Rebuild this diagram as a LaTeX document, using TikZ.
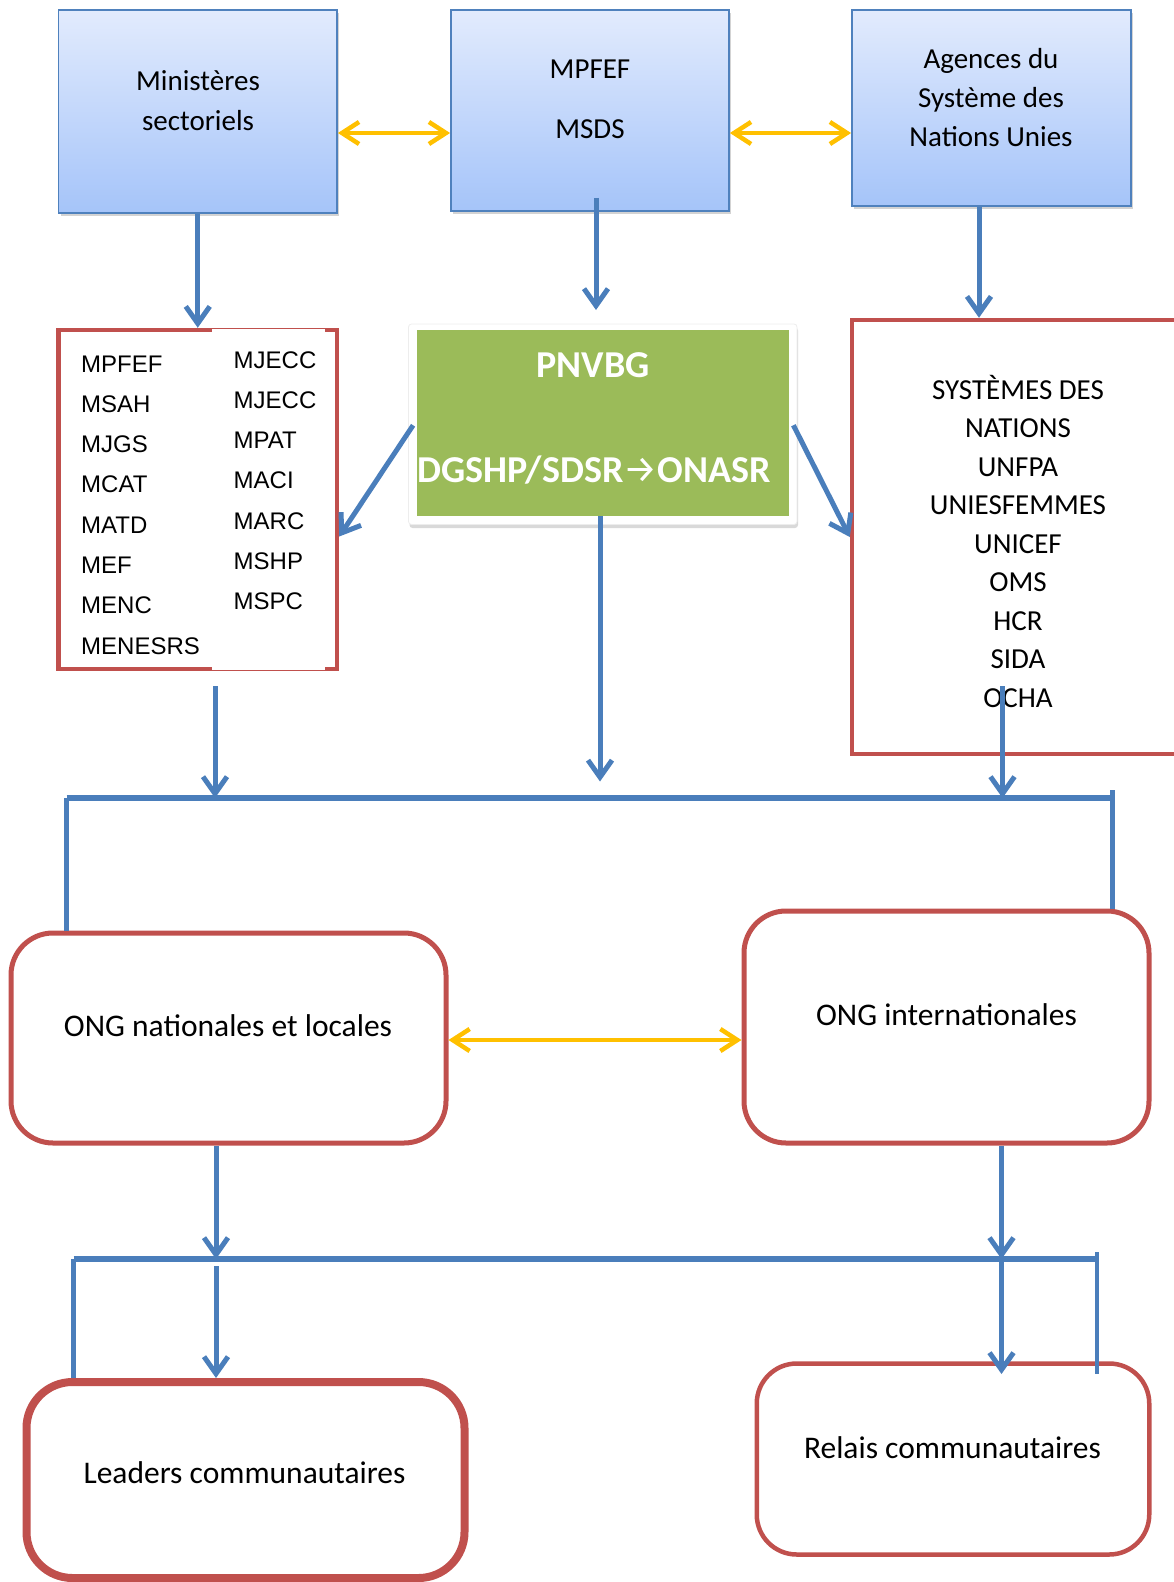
\documentclass[tikz,border=0pt]{standalone}
\usepackage{fontspec}
\setmainfont{Carlito}
\newfontfamily\arialfont{Liberation Sans}
\newfontfamily\arrowfont{Fira Sans}
\usetikzlibrary{arrows.meta,shadows}

\definecolor{boxtop}{HTML}{E2EBFD}
\definecolor{boxbot}{HTML}{A5C4F9}
\definecolor{boxline}{HTML}{4F81BD}
\definecolor{flowblue}{HTML}{4A7EBB}
\definecolor{yellowlink}{HTML}{FFC000}
\definecolor{redline}{HTML}{C0504D}
\definecolor{pnvgreen}{HTML}{9BBB59}

\tikzstyle{bluebox} = [draw=boxline, line width=1.8pt, top color=boxtop, bottom color=boxbot, inner sep=0pt,
    drop shadow={shadow xshift=2pt, shadow yshift=-3pt, opacity=0.35}]
\tikzstyle{redbox} = [draw=redline, line width=4.5pt, inner sep=0pt]
\tikzstyle{ongbox} = [draw=redline, line width=5pt, rounded corners=42pt, inner sep=0pt]
\tikzstyle{txt} = [anchor=base, inner sep=0pt, font=\fontsize{29}{35}\selectfont]
\tikzstyle{bigtxt} = [anchor=base, inner sep=0pt, font=\fontsize{31.5}{37}\selectfont]
\tikzstyle{pnvtxt} = [anchor=base, inner sep=0pt, text=white, font=\bfseries\fontsize{38}{44}\selectfont]
\tikzstyle{item} = [anchor=base west, inner sep=0pt, font=\arialfont\fontsize{24}{28}\selectfont]
\tikzstyle{flowline} = [draw=flowblue, line width=5pt, -{Straight Barb[length=17pt,width=24pt]}]
\tikzstyle{linkline} = [draw=yellowlink, line width=4.5pt,
    {Straight Barb[length=17pt,width=22pt]}-{Straight Barb[length=17pt,width=22pt]}]
\tikzstyle{bar} = [draw=flowblue, line width=6pt]
\tikzstyle{post} = [draw=flowblue, line width=4.5pt]

\begin{document}
\begin{tikzpicture}[x=1pt,y=-1pt]
\useasboundingbox (0,0) rectangle (1174,1582);
\clip (0,0) rectangle (1174,1582);

% top row
\node[bluebox, minimum width=278.5pt, minimum height=203pt] (mini) at (197.75,111.5) {};
\node[bluebox, minimum width=278pt, minimum height=201pt] (mpfef) at (590,110.5) {};
\node[bluebox, minimum width=279pt, minimum height=196pt] (agences) at (991.5,108) {};
\foreach \t [count=\i] in {Ministères, sectoriels}
    \node[txt] (mini-\i) at (198,50+40*\i) {\t};
\foreach \t [count=\i] in {MPFEF, MSDS}
    \node[txt] (mpfef-\i) at (590,18+60*\i) {\t};
\foreach \t [count=\i] in {Agences du, Système des, Nations Unies}
    \node[txt] (agences-\i) at (991,29+39*\i) {\t};

\draw[linkline] ([yshift=-21.5pt]mini.east) -- ([yshift=-22.5pt]mpfef.west);
\draw[linkline] ([yshift=-22.5pt]mpfef.east) -- ([yshift=-25pt]agences.west);

% second row
\node[redbox, minimum width=278.5pt, minimum height=339pt] (list) at (197.75,499.5) {};
\node[fill=white, inner sep=0pt, minimum width=112.9pt, minimum height=341pt] (listcol) at (268.85,499.5) {};
\foreach \t [count=\i] in {MPFEF, MSAH, MJGS, MCAT, MATD, MEF, MENC, MENESRS}
    \node[item] (left-\i) at (81,331.7+40.3*\i) {\t};
\foreach \t [count=\i] in {MJECC, MJECC, MPAT, MACI, MARC, MSHP, MSPC}
    \node[item] (right-\i) at (233.5,327.7+40.3*\i) {\t};

\node[fill=white, draw=black!7, line width=0.8pt, rounded corners=3pt, inner sep=0pt,
    minimum width=388.5pt, minimum height=200.5pt,
    drop shadow={shadow xshift=1pt, shadow yshift=-3.5pt, opacity=0.3}] (pnvframe) at (602.75,424.25) {};
\node[fill=pnvgreen, inner sep=0pt, minimum width=372pt, minimum height=186pt] (pnvbg) at (602.5,423) {};
\node[pnvtxt] (pnvbg-1) at (593,377) {PNVBG};
\node[pnvtxt] (pnvbg-2) at (594,482) {DGSHP/SDSR{\mdseries\arrowfont →}ONASR};

\node[redbox, minimum width=338pt, minimum height=434pt] (sys) at (1021,537) {};
\foreach \t [count=\i] in {SYSTÈMES DES, NATIONS, UNFPA, UNIESFEMMES, UNICEF, OMS, HCR, SIDA, OCHA}
    \node[txt] (sys-\i) at (1018,360.5+38.5*\i) {\t};

\coordinate (pnvin) at (596,310);
\coordinate (agout) at ([xshift=-12.5pt]agences.south);
\draw[flowline] (mini.south) -- (list.north);
\draw[flowline] ([xshift=6pt,yshift=14pt]mpfef.south) -- (pnvin);
\draw[flowline] (agout) -- (agout |- sys.north);
\draw[flowline] ([xshift=5pt,yshift=-1pt]pnvframe.west) -- ([yshift=-37pt]list.east);
\draw[flowline] ([xshift=-4pt,yshift=-1pt]pnvframe.east) -- (sys.west);

% first bar
\coordinate (bar1l) at (66.5,798);
\coordinate (bar1r) at (1113.5,798);
\coordinate (listout) at (215,686);
\coordinate (sysout) at (1002.5,686);
\coordinate (midin) at (600,781.5);
\draw[flowline] ([xshift=-2.5pt]pnvbg.south) -- (midin);
\draw[flowline] (listout) -- (listout |- bar1l);
\draw[flowline] (sysout) -- (sysout |- bar1l);
\draw[bar] (bar1l) -- (bar1r);

% ONG
\node[ongbox, minimum width=435pt, minimum height=210pt] (ongnat) at (228.5,1038) {};
\node[ongbox, minimum width=405pt, minimum height=232pt] (ongint) at (946.5,1027) {};
\node[bigtxt] (ongnat-t) at (228,1036) {ONG nationales et locales};
\node[bigtxt] (ongint-t) at (946.5,1025) {ONG internationales};
\draw[post] (bar1l) -- (ongnat.north -| bar1l);
\draw[post] (1112.5,790) -- (ongint.north -| 1112.5,790);
\draw[linkline] ([yshift=-2pt]ongnat.east) -- ([yshift=-13pt]ongint.west);

% second bar
\coordinate (bar2l) at (73.6,1259);
\coordinate (bar2r) at (1098.4,1259);
\coordinate (natout) at ([xshift=-12.5pt]ongnat.south);
\coordinate (intout) at ([xshift=55pt]ongint.south);
\draw[flowline] (natout) -- (natout |- bar2l);
\draw[flowline] (intout) -- (intout |- bar2l);
\draw[bar] (bar2l) -- (bar2r);

% bottom row
\node[ongbox, line width=8pt, rounded corners=46pt, minimum width=438pt, minimum height=196pt] (leaders) at (245.5,1480) {};
\node[ongbox, line width=4.5pt, rounded corners=40pt, minimum width=392.5pt, minimum height=191pt] (relais) at (953,1459) {};
\node[bigtxt] (leaders-t) at (244.5,1483) {Leaders communautaires};
\node[bigtxt] (relais-t) at (952.5,1458) {Relais communautaires};
\coordinate (leadin) at (216,1266);
\coordinate (relaisin) at (1001.5,1259);
\draw[post] (bar2l) -- (leaders.north -| bar2l);
\draw[post] (1097,1252) -- (1097,1374);
\draw[flowline] (leadin) -- (leadin |- leaders.north);
\draw[flowline] (relaisin) -- (1001.5,1374);
\end{tikzpicture}
\end{document}
